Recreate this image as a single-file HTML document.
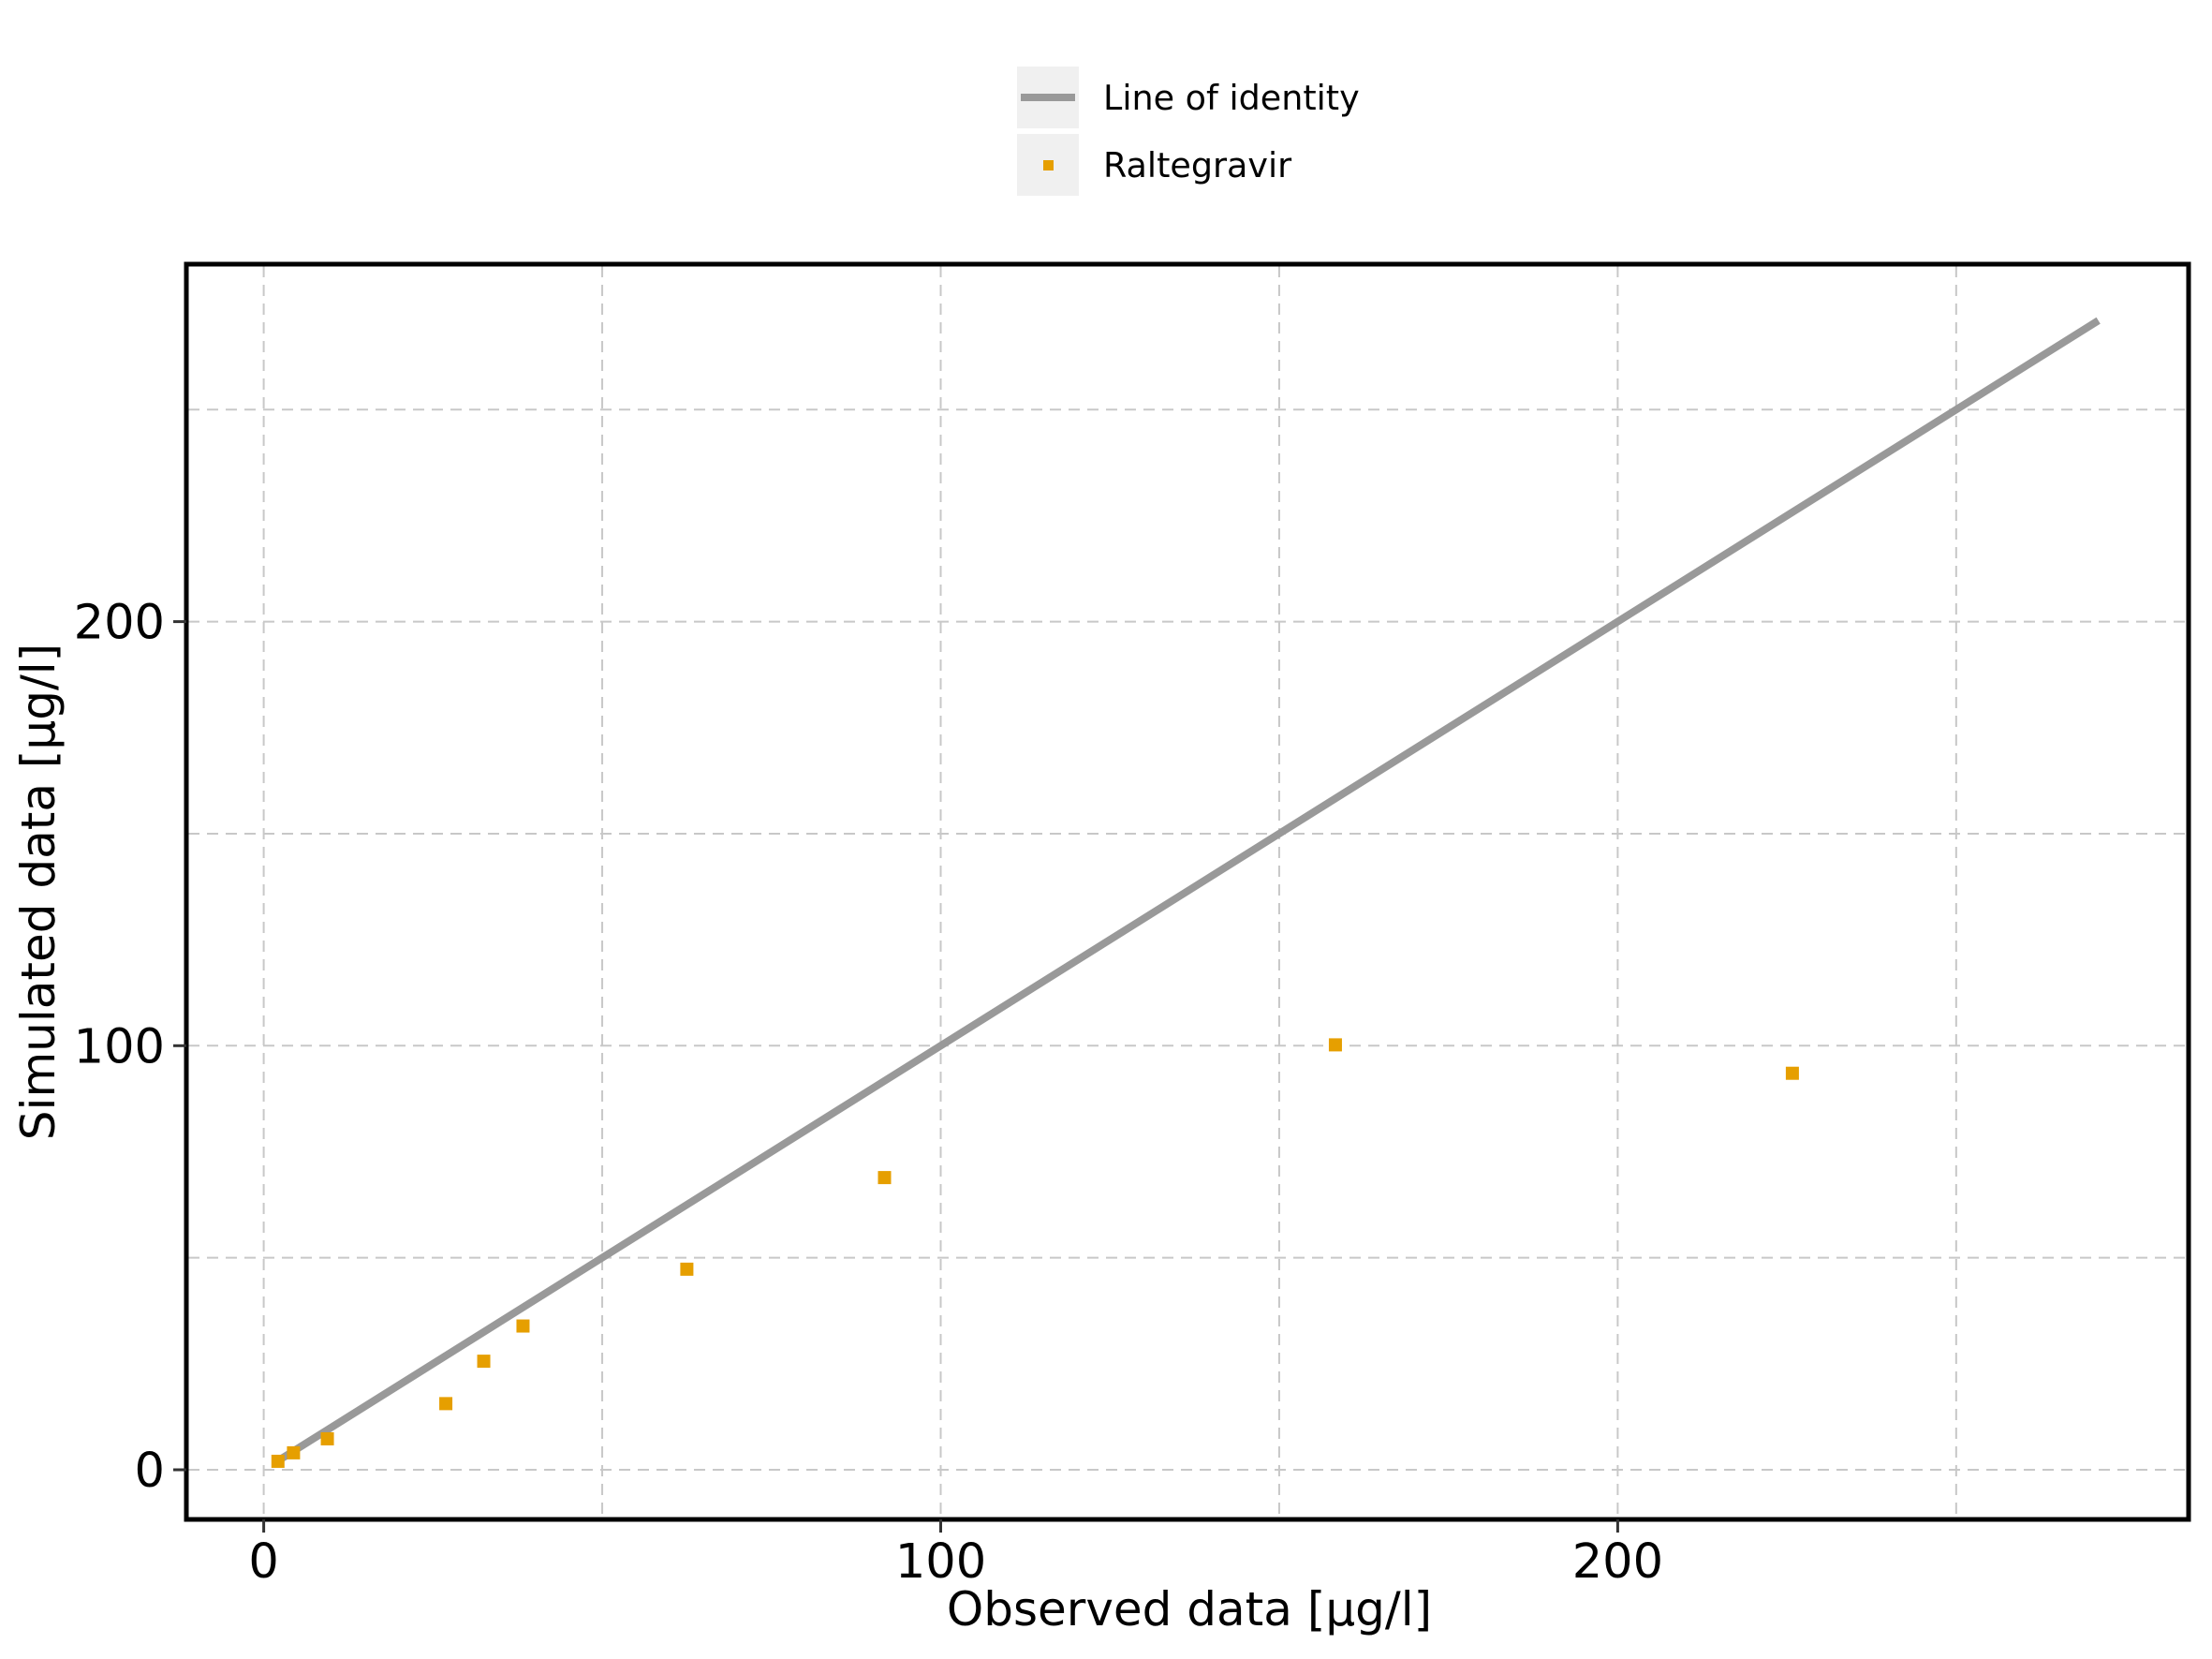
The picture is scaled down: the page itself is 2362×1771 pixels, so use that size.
<!DOCTYPE html>
<html><head><meta charset="utf-8"><style>
body{margin:0;background:#fff}
svg{display:block;font-family:"DejaVu Sans","Liberation Sans",sans-serif}
</style></head><body>
<svg id="chart" width="2362" height="1771" viewBox="0 0 2362 1771" xmlns="http://www.w3.org/2000/svg">
<g id="grid"></g>
<g id="series"></g>
<rect x="199" y="282" width="2138" height="1340" fill="none" stroke="#000" stroke-width="5"/>
<g id="axes"></g>
<text x="1270" y="1735" font-size="50" text-anchor="middle">Observed data [µg/l]</text>
<text transform="translate(58,952) rotate(-90)" font-size="50" text-anchor="middle">Simulated data [µg/l]</text>
<g>
<rect x="1086" y="71" width="66" height="66" fill="#f0f0f0"/>
<line x1="1090" y1="104" x2="1148" y2="104" stroke="#999" stroke-width="8"/>
<text x="1178" y="117" font-size="36.5">Line of identity</text>
<rect x="1086" y="143" width="66" height="66" fill="#f0f0f0"/>
<rect x="1114" y="171" width="11" height="11" fill="#E69F00"/>
<text x="1178" y="189" font-size="36.5">Raltegravir</text>
</g>
</svg>
<script>
const obsX = [2.1, 4.4, 9.4, 26.9, 32.5, 38.3, 62.5, 91.7, 158.3, 225.8];
const simY = [2.0, 4.0, 7.3, 15.6, 25.6, 33.9, 47.3, 68.9, 100.2, 93.5];
const identityRange = [2, 271];
const xTicks = [0, 100, 200];
const yTicks = [0, 100, 200];
const gridVals = [0, 50, 100, 150, 200, 250];
const NS = "http://www.w3.org/2000/svg";
const X0 = 281.6, XS = 7.229, Y0 = 1569, YS = 4.527;
function sx(v){return X0 + v*XS;}
function sy(v){return Y0 - v*YS;}
function mk(tag, attrs, parent){const e=document.createElementNS(NS,tag);for(const k in attrs)e.setAttribute(k,attrs[k]);parent.appendChild(e);return e;}
const grid=document.getElementById('grid'), series=document.getElementById('series'), axes=document.getElementById('axes');
gridVals.forEach(v=>{
  const gx=mk('line',{x1:sx(v),x2:sx(v),y1:284,y2:1620,stroke:'#c8c8c8','stroke-width':2,'stroke-dasharray':'12,8'},grid);
  
  
  const gy=mk('line',{x1:201,x2:2335,y1:sy(v),y2:sy(v),stroke:'#c8c8c8','stroke-width':2,'stroke-dasharray':'12,8'},grid);
  
  
});
const idl=mk('line',{x1:sx(identityRange[0]),y1:sy(identityRange[0]),x2:sx(identityRange[1]),y2:sy(identityRange[1]),stroke:'#999','stroke-width':8},series);


obsX.forEach((x,i)=>{
  const p=mk('rect',{x:sx(x)-7,y:sy(simY[i])-7,width:14,height:14,fill:'#E69F00'},series);
  
  
});
xTicks.forEach(v=>{
  const t=mk('line',{x1:sx(v),x2:sx(v),y1:1622,y2:1636,stroke:'#333','stroke-width':3},axes);
  
  
  const l=mk('text',{x:sx(v),y:1684,'font-size':51,'text-anchor':'middle'},axes);
  l.textContent=v;
  
  
});
yTicks.forEach(v=>{
  const t=mk('line',{x1:185,x2:199,y1:sy(v),y2:sy(v),stroke:'#333','stroke-width':3},axes);
  
  
  const l=mk('text',{x:176,y:sy(v)+18,'font-size':51,'text-anchor':'end'},axes);
  l.textContent=v;
  
  
});
</script>
</body></html>
